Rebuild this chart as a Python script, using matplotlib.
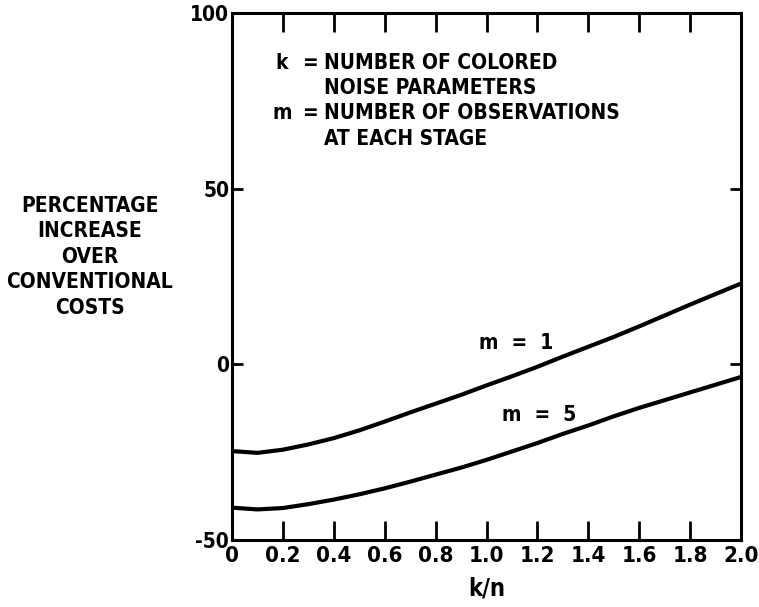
import numpy as np
import matplotlib.pyplot as plt

plt.rcParams['font.family'] = ['DejaVu Sans']
plt.rcParams['font.stretch'] = 'condensed'
plt.rcParams['font.weight'] = 'bold'
plt.rcParams['axes.unicode_minus'] = False

# k/n values and percentage increase over conventional costs
kn = [0.0, 0.1, 0.2, 0.3, 0.4, 0.5, 0.6, 0.7, 0.8, 0.9, 1.0,
      1.1, 1.2, 1.3, 1.4, 1.5, 1.6, 1.7, 1.8, 1.9, 2.0]
cost_m1 = [-24.7, -25.2, -24.3, -22.8, -21.0, -18.8, -16.3, -13.7, -11.2, -8.7, -6.0,
           -3.4, -0.7, 2.2, 5.0, 7.8, 10.8, 13.9, 17.0, 20.0, 23.0]
cost_m5 = [-40.8, -41.3, -40.9, -39.8, -38.5, -37.0, -35.3, -33.4, -31.4, -29.4, -27.2,
           -24.8, -22.4, -19.8, -17.4, -14.8, -12.4, -10.2, -8.0, -5.8, -3.6]

x_ticks = [0, 0.2, 0.4, 0.6, 0.8, 1.0, 1.2, 1.4, 1.6, 1.8, 2.0]
x_labels = ['0', '0.2', '0.4', '0.6', '0.8', '1.0', '1.2', '1.4', '1.6', '1.8', '2.0']
y_ticks = [-50, 0, 50, 100]

fig = plt.figure(figsize=(7.59, 6.07), dpi=100)
ax = fig.add_axes([0.3057, 0.1104, 0.6706, 0.8682])

ax.plot(kn, cost_m1, color='black', lw=3.0, solid_capstyle='butt')
ax.plot(kn, cost_m5, color='black', lw=3.0, solid_capstyle='butt')

ax.set_xlim(0, 2.0)
ax.set_ylim(-50, 100)
ax.set_xticks(x_ticks)
ax.set_xticklabels(x_labels)
ax.set_yticks(y_ticks)

for s in ax.spines.values():
    s.set_linewidth(2.2)

ax.tick_params(axis='x', direction='in', length=14, width=2, labelsize=16,
               pad=4, top=True)
ax.tick_params(axis='y', direction='in', length=8, width=2, labelsize=15,
               pad=2, right=True)

ax.set_xlabel('k/n', fontsize=17, fontweight='bold', labelpad=8)

fig.text(0.118, 0.577, 'PERCENTAGE\nINCREASE\nOVER\nCONVENTIONAL\nCOSTS',
         ha='center', va='center', fontsize=15, fontweight='bold',
         linespacing=1.35)

# definitions of k and m
fs = 15
ax.text(0.17, 85.8, 'k', fontsize=fs, fontweight='bold', va='center')
ax.text(0.31, 85.8, '=', fontsize=fs, fontweight='bold', va='center', ha='center')
ax.text(0.36, 85.8, 'NUMBER OF COLORED', fontsize=fs, fontweight='bold', va='center')
ax.text(0.36, 78.6, 'NOISE PARAMETERS', fontsize=fs, fontweight='bold', va='center')
ax.text(0.16, 71.4, 'm', fontsize=fs, fontweight='bold', va='center')
ax.text(0.31, 71.4, '=', fontsize=fs, fontweight='bold', va='center', ha='center')
ax.text(0.36, 71.4, 'NUMBER OF OBSERVATIONS', fontsize=fs, fontweight='bold', va='center')
ax.text(0.36, 64.0, 'AT EACH STAGE', fontsize=fs, fontweight='bold', va='center')

# curve labels
ax.text(0.97, 6, 'm  =  1', fontsize=fs, fontweight='bold', va='center')
ax.text(1.06, -14.5, 'm  =  5', fontsize=fs, fontweight='bold', va='center')

fig.savefig('out.png', dpi=100)
